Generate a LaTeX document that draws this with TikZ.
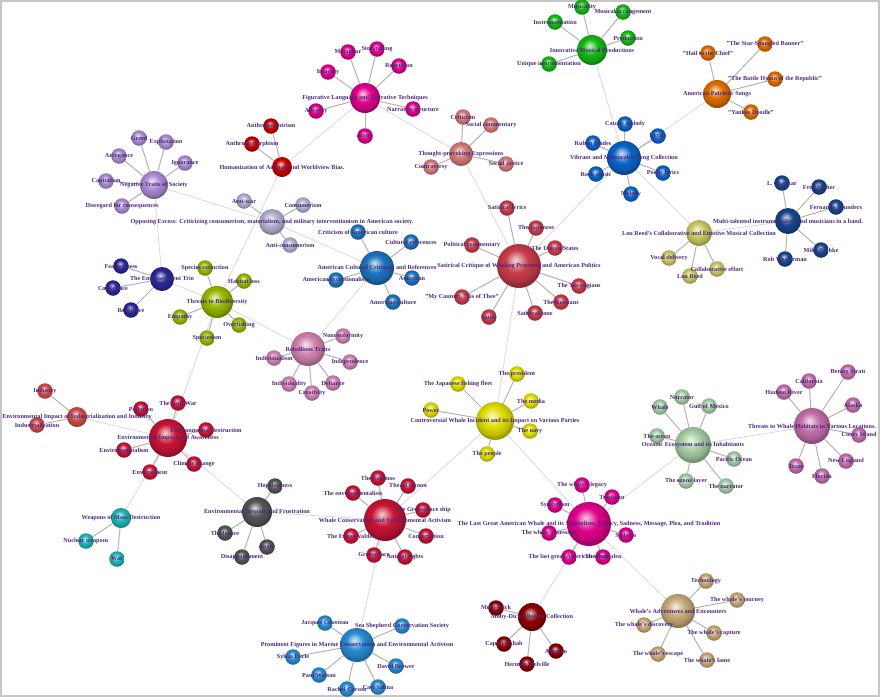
\documentclass[tikz,border=0pt]{standalone}
\usepackage{fontspec}
\setmainfont{Liberation Serif}
\usetikzlibrary{backgrounds}

\definecolor{labelpurple}{RGB}{75,40,120}
\definecolor{negc}{RGB}{170,140,210}
\definecolor{oppc}{RGB}{178,175,208}
\definecolor{humc}{RGB}{200,0,0}
\definecolor{figc}{RGB}{225,0,140}
\definecolor{tpec}{RGB}{212,122,122}
\definecolor{impc}{RGB}{20,185,20}
\definecolor{vibc}{RGB}{10,100,200}
\definecolor{patc}{RGB}{222,110,0}
\definecolor{louc}{RGB}{200,200,100}
\definecolor{mulc}{RGB}{20,70,140}
\definecolor{satc}{RGB}{200,60,75}
\definecolor{accc}{RGB}{30,115,190}
\definecolor{empc}{RGB}{40,40,150}
\definecolor{bioc}{RGB}{150,185,0}
\definecolor{rebc}{RGB}{210,130,175}
\definecolor{indc}{RGB}{210,75,75}
\definecolor{eiac}{RGB}{200,20,55}
\definecolor{wmdc}{RGB}{30,180,180}
\definecolor{desc}{RGB}{85,85,85}
\definecolor{wcac}{RGB}{200,20,55}
\definecolor{pfmc}{RGB}{40,140,210}
\definecolor{cwic}{RGB}{222,222,0}
\definecolor{lgwc}{RGB}{225,0,140}
\definecolor{mobc}{RGB}{140,0,0}
\definecolor{advc}{RGB}{200,170,120}
\definecolor{ocec}{RGB}{165,205,165}
\definecolor{thwc}{RGB}{195,110,170}

% soft sphere shading, tinted by the colour "gloss"
\colorlet{gloss}{gray}
\pgfdeclareradialshading[gloss]{sphere}{\pgfqpoint{-4bp}{7bp}}{%
 color(0bp)=(gloss!20!white);
 color(13bp)=(gloss);
 color(22bp)=(gloss!85!black);
 color(25bp)=(gloss!72!black);
 color(50bp)=(gloss!60!black)}

\begin{document}
\begin{tikzpicture}[x=1pt,y=-1pt,
hubnode/.style={circle, shading=sphere, /utils/exec={\colorlet{gloss}{#1}}, inner sep=0pt},
leafnode/.style={hubnode=#1, minimum size=15.5pt},
nodetext/.style={text=labelpurple, font=\bfseries\fontsize{6.2}{7}\selectfont, inner sep=0pt},
spoke/.style={draw=gray!60, line width=1pt},
link/.style={draw=gray!30, line width=0.8pt}
]
\useasboundingbox (0,0) rectangle (880,697);
\draw[gray!45, line width=1.5pt] (1,1) rectangle (879,696);

%Hubs
\node[hubnode=negc, minimum size=28pt] (NEG) at (154,185) {};
\node[hubnode=oppc, minimum size=26pt] (OPP) at (272,222) {};
\node[hubnode=humc, minimum size=20pt] (HUM) at (282,167) {};
\node[hubnode=figc, minimum size=30pt] (FIG) at (365,98) {};
\node[hubnode=tpec, minimum size=24pt] (TPE) at (461,154) {};
\node[hubnode=impc, minimum size=30pt] (IMP) at (592,50) {};
\node[hubnode=vibc, minimum size=34pt] (VIB) at (624,158) {};
\node[hubnode=patc, minimum size=28pt] (PAT) at (717,94) {};
\node[hubnode=louc, minimum size=26pt] (LOU) at (699,233) {};
\node[hubnode=mulc, minimum size=26pt] (MUL) at (788,221) {};
\node[hubnode=satc, minimum size=44pt] (SAT) at (519,266) {};
\node[hubnode=accc, minimum size=34pt] (ACC) at (377,268) {};
\node[hubnode=empc, minimum size=24pt] (EMP) at (162,279) {};
\node[hubnode=bioc, minimum size=32pt] (BIO) at (217,302) {};
\node[hubnode=rebc, minimum size=34pt] (REB) at (308,349) {};
\node[hubnode=indc, minimum size=20pt] (IND) at (77,417) {};
\node[hubnode=eiac, minimum size=38pt] (EIA) at (168,438) {};
\node[hubnode=wmdc, minimum size=20pt] (WMD) at (121,518) {};
\node[hubnode=desc, minimum size=30pt] (DES) at (257,512) {};
\node[hubnode=wcac, minimum size=42pt] (WCA) at (385,520) {};
\node[hubnode=pfmc, minimum size=34pt] (PFM) at (357,645) {};
\node[hubnode=cwic, minimum size=38pt] (CWI) at (495,421) {};
\node[hubnode=lgwc, minimum size=44pt] (LGW) at (589,524) {};
\node[hubnode=mobc, minimum size=28pt] (MOB) at (532,617) {};
\node[hubnode=advc, minimum size=34pt] (ADV) at (678,611) {};
\node[hubnode=ocec, minimum size=36pt] (OCE) at (693,445) {};
\node[hubnode=thwc, minimum size=36pt] (THW) at (812,426) {};

%Leaves
\node[leafnode=negc] (NEG-1) at (139,138) {};
\node[leafnode=negc] (NEG-2) at (166,142) {};
\node[leafnode=negc] (NEG-3) at (119,156) {};
\node[leafnode=negc] (NEG-4) at (185,163) {};
\node[leafnode=negc] (NEG-5) at (106,181) {};
\node[leafnode=negc] (NEG-6) at (122,206) {};

\node[leafnode=oppc] (OPP-1) at (244,201) {};
\node[leafnode=oppc] (OPP-2) at (303,205) {};
\node[leafnode=oppc] (OPP-3) at (290,245) {};

\node[leafnode=humc] (HUM-1) at (271,126) {};
\node[leafnode=humc] (HUM-2) at (252,144) {};

\node[leafnode=figc] (FIG-1) at (348,52) {};
\node[leafnode=figc] (FIG-2) at (377,49) {};
\node[leafnode=figc] (FIG-3) at (328,72) {};
\node[leafnode=figc] (FIG-4) at (399,66) {};
\node[leafnode=figc] (FIG-5) at (316,111) {};
\node[leafnode=figc] (FIG-6) at (413,109) {};
\node[leafnode=figc] (FIG-7) at (365,136) {};

\node[leafnode=tpec] (TPE-1) at (463,117) {};
\node[leafnode=tpec] (TPE-2) at (491,125) {};
\node[leafnode=tpec] (TPE-3) at (506,164) {};
\node[leafnode=tpec] (TPE-4) at (431,167) {};

\node[leafnode=impc] (IMP-1) at (582,7) {};
\node[leafnode=impc] (IMP-2) at (623,12) {};
\node[leafnode=impc] (IMP-3) at (555,22) {};
\node[leafnode=impc] (IMP-4) at (628,38) {};
\node[leafnode=impc] (IMP-5) at (549,64) {};

\node[leafnode=vibc] (VIB-1) at (625,124) {};
\node[leafnode=vibc] (VIB-2) at (593,143) {};
\node[leafnode=vibc] (VIB-3) at (658,136) {};
\node[leafnode=vibc] (VIB-4) at (596,174) {};
\node[leafnode=vibc] (VIB-5) at (663,173) {};
\node[leafnode=vibc] (VIB-6) at (631,194) {};

\node[leafnode=patc] (PAT-1) at (708,53) {};
\node[leafnode=patc] (PAT-2) at (765,44) {};
\node[leafnode=patc] (PAT-3) at (775,79) {};
\node[leafnode=patc] (PAT-4) at (751,112) {};

\node[leafnode=louc] (LOU-1) at (669,258) {};
\node[leafnode=louc] (LOU-2) at (690,276) {};
\node[leafnode=louc] (LOU-3) at (717,269) {};

\node[leafnode=mulc] (MUL-1) at (782,183) {};
\node[leafnode=mulc] (MUL-2) at (819,187) {};
\node[leafnode=mulc] (MUL-3) at (836,207) {};
\node[leafnode=mulc] (MUL-4) at (821,250) {};
\node[leafnode=mulc] (MUL-5) at (785,259) {};

\node[leafnode=satc] (SAT-1) at (507,208) {};
\node[leafnode=satc] (SAT-2) at (536,228) {};
\node[leafnode=satc] (SAT-3) at (472,245) {};
\node[leafnode=satc] (SAT-4) at (555,248) {};
\node[leafnode=satc] (SAT-5) at (462,297) {};
\node[leafnode=satc] (SAT-6) at (489,317) {};
\node[leafnode=satc] (SAT-7) at (535,313) {};
\node[leafnode=satc] (SAT-8) at (561,302) {};
\node[leafnode=satc] (SAT-9) at (579,286) {};

\node[leafnode=accc] (ACC-1) at (358,232) {};
\node[leafnode=accc] (ACC-2) at (411,242) {};
\node[leafnode=accc] (ACC-3) at (336,280) {};
\node[leafnode=accc] (ACC-4) at (412,278) {};
\node[leafnode=accc] (ACC-5) at (393,302) {};

\node[leafnode=empc] (EMP-1) at (121,266) {};
\node[leafnode=empc] (EMP-2) at (113,288) {};
\node[leafnode=empc] (EMP-3) at (131,310) {};

\node[leafnode=bioc] (BIO-1) at (205,268) {};
\node[leafnode=bioc] (BIO-2) at (244,281) {};
\node[leafnode=bioc] (BIO-3) at (180,317) {};
\node[leafnode=bioc] (BIO-4) at (239,325) {};
\node[leafnode=bioc] (BIO-5) at (207,338) {};

\node[leafnode=rebc] (REB-1) at (343,336) {};
\node[leafnode=rebc] (REB-2) at (274,358) {};
\node[leafnode=rebc] (REB-3) at (350,362) {};
\node[leafnode=rebc] (REB-4) at (289,384) {};
\node[leafnode=rebc] (REB-5) at (333,383) {};
\node[leafnode=rebc] (REB-6) at (312,393) {};

\node[leafnode=indc] (IND-1) at (45,391) {};
\node[leafnode=indc] (IND-2) at (37,425) {};

\node[leafnode=eiac] (EIA-1) at (178,403) {};
\node[leafnode=eiac] (EIA-2) at (141,409) {};
\node[leafnode=eiac] (EIA-3) at (206,430) {};
\node[leafnode=eiac] (EIA-4) at (124,450) {};
\node[leafnode=eiac] (EIA-5) at (194,464) {};
\node[leafnode=eiac] (EIA-6) at (150,472) {};

\node[leafnode=wmdc] (WMD-1) at (86,541) {};
\node[leafnode=wmdc] (WMD-2) at (117,559) {};

\node[leafnode=desc] (DES-1) at (275,486) {};
\node[leafnode=desc] (DES-2) at (225,533) {};
\node[leafnode=desc] (DES-3) at (267,547) {};
\node[leafnode=desc] (DES-4) at (242,557) {};

\node[leafnode=wcac] (WCA-1) at (378,478) {};
\node[leafnode=wcac] (WCA-2) at (408,486) {};
\node[leafnode=wcac] (WCA-3) at (353,493) {};
\node[leafnode=wcac] (WCA-4) at (423,510) {};
\node[leafnode=wcac] (WCA-5) at (351,536) {};
\node[leafnode=wcac] (WCA-6) at (426,536) {};
\node[leafnode=wcac] (WCA-7) at (374,555) {};
\node[leafnode=wcac] (WCA-8) at (405,557) {};

\node[leafnode=pfmc] (PFM-1) at (325,623) {};
\node[leafnode=pfmc] (PFM-2) at (402,626) {};
\node[leafnode=pfmc] (PFM-3) at (293,657) {};
\node[leafnode=pfmc] (PFM-4) at (396,666) {};
\node[leafnode=pfmc] (PFM-5) at (319,675) {};
\node[leafnode=pfmc] (PFM-6) at (347,689) {};
\node[leafnode=pfmc] (PFM-7) at (378,687) {};

\node[leafnode=cwic] (CWI-1) at (517,374) {};
\node[leafnode=cwic] (CWI-2) at (458,384) {};
\node[leafnode=cwic] (CWI-3) at (531,401) {};
\node[leafnode=cwic] (CWI-4) at (530,431) {};
\node[leafnode=cwic] (CWI-5) at (487,454) {};
\node[leafnode=cwic] (CWI-6) at (431,410) {};

\node[leafnode=lgwc] (LGW-1) at (582,485) {};
\node[leafnode=lgwc] (LGW-2) at (612,497) {};
\node[leafnode=lgwc] (LGW-3) at (555,505) {};
\node[leafnode=lgwc] (LGW-4) at (549,533) {};
\node[leafnode=lgwc] (LGW-5) at (626,535) {};
\node[leafnode=lgwc] (LGW-6) at (569,557) {};
\node[leafnode=lgwc] (LGW-7) at (603,557) {};

\node[leafnode=mobc] (MOB-1) at (496,608) {};
\node[leafnode=mobc] (MOB-2) at (504,644) {};
\node[leafnode=mobc] (MOB-3) at (556,651) {};
\node[leafnode=mobc] (MOB-4) at (527,664) {};

\node[leafnode=advc] (ADV-1) at (706,581) {};
\node[leafnode=advc] (ADV-2) at (737,600) {};
\node[leafnode=advc] (ADV-3) at (644,625) {};
\node[leafnode=advc] (ADV-4) at (714,633) {};
\node[leafnode=advc] (ADV-5) at (658,654) {};
\node[leafnode=advc] (ADV-6) at (707,660) {};

\node[leafnode=ocec] (OCE-1) at (660,407) {};
\node[leafnode=ocec] (OCE-2) at (682,397) {};
\node[leafnode=ocec] (OCE-3) at (709,406) {};
\node[leafnode=ocec] (OCE-4) at (657,436) {};
\node[leafnode=ocec] (OCE-5) at (734,459) {};
\node[leafnode=ocec] (OCE-6) at (686,481) {};
\node[leafnode=ocec] (OCE-7) at (726,486) {};

\node[leafnode=thwc] (THW-1) at (848,372) {};
\node[leafnode=thwc] (THW-2) at (809,381) {};
\node[leafnode=thwc] (THW-3) at (784,392) {};
\node[leafnode=thwc] (THW-4) at (853,405) {};
\node[leafnode=thwc] (THW-5) at (859,435) {};
\node[leafnode=thwc] (THW-6) at (846,461) {};
\node[leafnode=thwc] (THW-7) at (796,466) {};
\node[leafnode=thwc] (THW-8) at (822,476) {};

%Lines
\begin{scope}[on background layer]
\draw[link] (NEG) -- (OPP);
\draw[link] (NEG) -- (EMP);
\draw[link] (OPP) -- (ACC);
\draw[link] (HUM) -- (FIG);
\draw[link] (HUM) -- (BIO);
\draw[link] (FIG) -- (TPE);
\draw[link] (TPE) -- (SAT);
\draw[link] (IMP) -- (VIB);
\draw[link] (VIB) -- (PAT);
\draw[link] (VIB) -- (LOU);
\draw[link] (VIB) -- (SAT);
\draw[link] (LOU) -- (MUL);
\draw[link] (EMP) -- (BIO);
\draw[link] (BIO) -- (REB);
\draw[link] (REB) -- (ACC);
\draw[link] (BIO) -- (EIA);
\draw[link] (IND) -- (EIA);
\draw[link] (EIA) -- (WMD);
\draw[link] (EIA) -- (DES);
\draw[link] (DES) -- (WCA);
\draw[link] (WCA) -- (CWI);
\draw[link] (WCA) -- (PFM);
\draw[link] (CWI) -- (SAT);
\draw[link] (CWI) -- (LGW);
\draw[link] (LGW) -- (MOB);
\draw[link] (LGW) -- (ADV);
\draw[link] (LGW) -- (OCE);
\draw[link] (OCE) -- (THW);

\foreach \i in {1,...,6} \draw[spoke] (NEG) -- (NEG-\i);
\foreach \i in {1,...,3} \draw[spoke] (OPP) -- (OPP-\i);
\foreach \i in {1,2} \draw[spoke] (HUM) -- (HUM-\i);
\foreach \i in {1,...,7} \draw[spoke] (FIG) -- (FIG-\i);
\foreach \i in {1,...,4} \draw[spoke] (TPE) -- (TPE-\i);
\foreach \i in {1,...,5} \draw[spoke] (IMP) -- (IMP-\i);
\foreach \i in {1,...,6} \draw[spoke] (VIB) -- (VIB-\i);
\foreach \i in {1,...,4} \draw[spoke] (PAT) -- (PAT-\i);
\foreach \i in {1,...,3} \draw[spoke] (LOU) -- (LOU-\i);
\foreach \i in {1,...,5} \draw[spoke] (MUL) -- (MUL-\i);
\foreach \i in {1,...,9} \draw[spoke] (SAT) -- (SAT-\i);
\foreach \i in {1,...,5} \draw[spoke] (ACC) -- (ACC-\i);
\foreach \i in {1,...,3} \draw[spoke] (EMP) -- (EMP-\i);
\foreach \i in {1,...,5} \draw[spoke] (BIO) -- (BIO-\i);
\foreach \i in {1,...,6} \draw[spoke] (REB) -- (REB-\i);
\foreach \i in {1,2} \draw[spoke] (IND) -- (IND-\i);
\foreach \i in {1,...,6} \draw[spoke] (EIA) -- (EIA-\i);
\foreach \i in {1,2} \draw[spoke] (WMD) -- (WMD-\i);
\foreach \i in {1,...,4} \draw[spoke] (DES) -- (DES-\i);
\foreach \i in {1,...,8} \draw[spoke] (WCA) -- (WCA-\i);
\foreach \i in {1,...,7} \draw[spoke] (PFM) -- (PFM-\i);
\foreach \i in {1,...,6} \draw[spoke] (CWI) -- (CWI-\i);
\foreach \i in {1,...,7} \draw[spoke] (LGW) -- (LGW-\i);
\foreach \i in {1,...,4} \draw[spoke] (MOB) -- (MOB-\i);
\foreach \i in {1,...,6} \draw[spoke] (ADV) -- (ADV-\i);
\foreach \i in {1,...,7} \draw[spoke] (OCE) -- (OCE-\i);
\foreach \i in {1,...,8} \draw[spoke] (THW) -- (THW-\i);
\end{scope}

%Labels
\node[nodetext] (NEG-1-t) at (NEG-1) {Greed};
\node[nodetext] (NEG-2-t) at (NEG-2) {Exploitation};
\node[nodetext] (NEG-3-t) at (NEG-3) {Arrogance};
\node[nodetext] (NEG-4-t) at (NEG-4) {Ignorance};
\node[nodetext] (NEG-5-t) at (NEG-5) {Capitalism};
\node[nodetext] (NEG-6-t) at (NEG-6) {Disregard for consequences};
\node[nodetext] (NEG-t) at (NEG) {Negative Traits of Society};

\node[nodetext] (OPP-1-t) at (OPP-1) {Anti-war};
\node[nodetext] (OPP-2-t) at (OPP-2) {Consumerism};
\node[nodetext] (OPP-3-t) at (OPP-3) {Anti-consumerism};
\node[nodetext] (OPP-t) at (OPP) {Opposing Excess: Criticizing consumerism, materialism, and military interventionism in American society.};

\node[nodetext] (HUM-1-t) at (HUM-1) {Anthropocentrism};
\node[nodetext] (HUM-2-t) at (HUM-2) {Anthropomorphism};
\node[nodetext] (HUM-t) at (HUM) {Humanization of Animals and Worldview Bias.};

\node[nodetext] (FIG-1-t) at (FIG-1) {Metaphor};
\node[nodetext] (FIG-2-t) at (FIG-2) {Storytelling};
\node[nodetext] (FIG-3-t) at (FIG-3) {Imagery};
\node[nodetext] (FIG-4-t) at (FIG-4) {Repetition};
\node[nodetext] (FIG-5-t) at (FIG-5) {Allegory};
\node[nodetext] (FIG-6-t) at (FIG-6) {Narrative structure};
\node[nodetext] (FIG-7-t) at (FIG-7) {Irony};
\node[nodetext] (FIG-t) at (FIG) {Figurative Language and Narrative Techniques};

\node[nodetext] (TPE-1-t) at (TPE-1) {Criticism};
\node[nodetext] (TPE-2-t) at (TPE-2) {Social commentary};
\node[nodetext] (TPE-3-t) at (TPE-3) {Social justice};
\node[nodetext] (TPE-4-t) at (TPE-4) {Controversy};
\node[nodetext] (TPE-t) at (TPE) {Thought-provoking Expressions};

\node[nodetext] (IMP-1-t) at (IMP-1) {Musicality};
\node[nodetext] (IMP-2-t) at (IMP-2) {Musical arrangement};
\node[nodetext] (IMP-3-t) at (IMP-3) {Instrumentation};
\node[nodetext] (IMP-4-t) at (IMP-4) {Production};
\node[nodetext] (IMP-5-t) at (IMP-5) {Unique instrumentation};
\node[nodetext] (IMP-t) at (IMP) {Innovative Musical Productions};

\node[nodetext] (VIB-1-t) at (VIB-1) {Catchy melody};
\node[nodetext] (VIB-2-t) at (VIB-2) {Ruben Blades};
\node[nodetext] (VIB-3-t) at (VIB-3) {Lyrics};
\node[nodetext] (VIB-4-t) at (VIB-4) {Rock music};
\node[nodetext] (VIB-5-t) at (VIB-5) {Poetic lyrics};
\node[nodetext] (VIB-6-t) at (VIB-6) {Melody};
\node[nodetext] (VIB-t) at (VIB) {Vibrant and Memorable Song Collection};

\node[nodetext] (PAT-1-t) at (PAT-1) {"Hail to the Chief"};
\node[nodetext] (PAT-2-t) at (PAT-2) {"The Star-Spangled Banner"};
\node[nodetext] (PAT-3-t) at (PAT-3) {"The Battle Hymn of the Republic"};
\node[nodetext] (PAT-4-t) at (PAT-4) {"Yankee Doodle"};
\node[nodetext] (PAT-t) at (PAT) {American Patriotic Songs};

\node[nodetext] (LOU-1-t) at (LOU-1) {Vocal delivery};
\node[nodetext] (LOU-2-t) at (LOU-2) {Lou Reed};
\node[nodetext] (LOU-3-t) at (LOU-3) {Collaborative effort};
\node[nodetext] (LOU-t) at (LOU) {Lou Reed's Collaborative and Emotive Musical Collection};

\node[nodetext] (MUL-1-t) at (MUL-1) {L. Shankar};
\node[nodetext] (MUL-2-t) at (MUL-2) {Fred Maher};
\node[nodetext] (MUL-3-t) at (MUL-3) {Fernando Saunders};
\node[nodetext] (MUL-4-t) at (MUL-4) {Mike Rathke};
\node[nodetext] (MUL-5-t) at (MUL-5) {Rob Wasserman};
\node[nodetext] (MUL-t) at (MUL) {Multi-talented instrumentalists and musicians in a band.};

\node[nodetext] (SAT-1-t) at (SAT-1) {Satirical lyrics};
\node[nodetext] (SAT-2-t) at (SAT-2) {The Japanese};
\node[nodetext] (SAT-3-t) at (SAT-3) {Political commentary};
\node[nodetext] (SAT-4-t) at (SAT-4) {The United States};
\node[nodetext] (SAT-5-t) at (SAT-5) {"My Country, 'Tis of Thee"};
\node[nodetext] (SAT-6-t) at (SAT-6) {Satire};
\node[nodetext] (SAT-7-t) at (SAT-7) {Satirical tone};
\node[nodetext] (SAT-8-t) at (SAT-8) {The Russians};
\node[nodetext] (SAT-9-t) at (SAT-9) {The Norwegians};
\node[nodetext] (SAT-t) at (SAT) {Satirical Critique of Whaling Practices and American Politics};

\node[nodetext] (ACC-1-t) at (ACC-1) {Criticism of American culture};
\node[nodetext] (ACC-2-t) at (ACC-2) {Cultural references};
\node[nodetext] (ACC-3-t) at (ACC-3) {American exceptionalism};
\node[nodetext] (ACC-4-t) at (ACC-4) {American};
\node[nodetext] (ACC-5-t) at (ACC-5) {American culture};
\node[nodetext] (ACC-t) at (ACC) {American Cultural Critiques and References};

\node[nodetext] (EMP-1-t) at (EMP-1) {Fearlessness};
\node[nodetext] (EMP-2-t) at (EMP-2) {Confidence};
\node[nodetext] (EMP-3-t) at (EMP-3) {Resilience};
\node[nodetext] (EMP-t) at (EMP) {The Empowerment Trio};

\node[nodetext] (BIO-1-t) at (BIO-1) {Species extinction};
\node[nodetext] (BIO-2-t) at (BIO-2) {Habitat loss};
\node[nodetext] (BIO-3-t) at (BIO-3) {Empathy};
\node[nodetext] (BIO-4-t) at (BIO-4) {Overfishing};
\node[nodetext] (BIO-5-t) at (BIO-5) {Speciesism};
\node[nodetext] (BIO-t) at (BIO) {Threats to Biodiversity};

\node[nodetext] (REB-1-t) at (REB-1) {Nonconformity};
\node[nodetext] (REB-2-t) at (REB-2) {Individualism};
\node[nodetext] (REB-3-t) at (REB-3) {Independence};
\node[nodetext] (REB-4-t) at (REB-4) {Individuality};
\node[nodetext] (REB-5-t) at (REB-5) {Defiance};
\node[nodetext] (REB-6-t) at (REB-6) {Creativity};
\node[nodetext] (REB-t) at (REB) {Rebellious Traits};

\node[nodetext] (IND-1-t) at (IND-1) {Industry};
\node[nodetext] (IND-2-t) at (IND-2) {Industrialization};
\node[nodetext] (IND-t) at (IND) {Environmental Impact of Industrialization and Industry};

\node[nodetext] (EIA-1-t) at (EIA-1) {The Gulf War};
\node[nodetext] (EIA-2-t) at (EIA-2) {Pollution};
\node[nodetext] (EIA-3-t) at (EIA-3) {Environmental destruction};
\node[nodetext] (EIA-4-t) at (EIA-4) {Environmentalism};
\node[nodetext] (EIA-5-t) at (EIA-5) {Climate change};
\node[nodetext] (EIA-6-t) at (EIA-6) {Environment};
\node[nodetext] (EIA-t) at (EIA) {Environmental Impact and Awareness};

\node[nodetext] (WMD-1-t) at (WMD-1) {Nuclear weapons};
\node[nodetext] (WMD-2-t) at (WMD-2) {War};
\node[nodetext] (WMD-t) at (WMD) {Weapons of Mass Destruction};

\node[nodetext] (DES-1-t) at (DES-1) {Hopelessness};
\node[nodetext] (DES-2-t) at (DES-2) {The future};
\node[nodetext] (DES-3-t) at (DES-3) {Anger};
\node[nodetext] (DES-4-t) at (DES-4) {Disappointment};
\node[nodetext] (DES-t) at (DES) {Environmental Despair and Frustration};

\node[nodetext] (WCA-1-t) at (WCA-1) {The Eskimos};
\node[nodetext] (WCA-2-t) at (WCA-2) {The oil tycoon};
\node[nodetext] (WCA-3-t) at (WCA-3) {The environmentalists};
\node[nodetext] (WCA-4-t) at (WCA-4) {The Greenpeace ship};
\node[nodetext] (WCA-5-t) at (WCA-5) {The Exxon Valdez};
\node[nodetext] (WCA-6-t) at (WCA-6) {Conservation};
\node[nodetext] (WCA-7-t) at (WCA-7) {Greenpeace};
\node[nodetext] (WCA-8-t) at (WCA-8) {Animal rights};
\node[nodetext] (WCA-t) at (WCA) {Whale Conservation and Environmental Activism};

\node[nodetext] (PFM-1-t) at (PFM-1) {Jacques Cousteau};
\node[nodetext] (PFM-2-t) at (PFM-2) {Sea Shepherd Conservation Society};
\node[nodetext] (PFM-3-t) at (PFM-3) {Sylvia Earle};
\node[nodetext] (PFM-4-t) at (PFM-4) {David Brower};
\node[nodetext] (PFM-5-t) at (PFM-5) {Paul Watson};
\node[nodetext] (PFM-6-t) at (PFM-6) {Rachel Carson};
\node[nodetext] (PFM-7-t) at (PFM-7) {Carl Safina};
\node[nodetext] (PFM-t) at (PFM) {Prominent Figures in Marine Conservation and Environmental Activism};

\node[nodetext] (CWI-1-t) at (CWI-1) {The president};
\node[nodetext] (CWI-2-t) at (CWI-2) {The Japanese fishing fleet};
\node[nodetext] (CWI-3-t) at (CWI-3) {The media};
\node[nodetext] (CWI-4-t) at (CWI-4) {The navy};
\node[nodetext] (CWI-5-t) at (CWI-5) {The people};
\node[nodetext] (CWI-6-t) at (CWI-6) {Power};
\node[nodetext] (CWI-t) at (CWI) {Controversial Whale Incident and its Impact on Various Parties};

\node[nodetext] (LGW-1-t) at (LGW-1) {The whale's legacy};
\node[nodetext] (LGW-2-t) at (LGW-2) {Tradition};
\node[nodetext] (LGW-3-t) at (LGW-3) {Symbolism};
\node[nodetext] (LGW-4-t) at (LGW-4) {The whale's message};
\node[nodetext] (LGW-5-t) at (LGW-5) {Sadness};
\node[nodetext] (LGW-6-t) at (LGW-6) {The last great American whale};
\node[nodetext] (LGW-7-t) at (LGW-7) {The final plea};
\node[nodetext] (LGW-t) at (LGW) {The Last Great American Whale and its Symbolism, Legacy, Sadness, Message, Plea, and Tradition};

\node[nodetext] (MOB-1-t) at (MOB-1) {Moby-Dick};
\node[nodetext] (MOB-2-t) at (MOB-2) {Captain Ahab};
\node[nodetext] (MOB-3-t) at (MOB-3) {Allusion};
\node[nodetext] (MOB-4-t) at (MOB-4) {Herman Melville};
\node[nodetext] (MOB-t) at (MOB) {Moby-Dick Allusion Collection};

\node[nodetext] (ADV-1-t) at (ADV-1) {Technology};
\node[nodetext] (ADV-2-t) at (ADV-2) {The whale's journey};
\node[nodetext] (ADV-3-t) at (ADV-3) {The whale's discovery};
\node[nodetext] (ADV-4-t) at (ADV-4) {The whale's capture};
\node[nodetext] (ADV-5-t) at (ADV-5) {The whale's escape};
\node[nodetext] (ADV-6-t) at (ADV-6) {The whale's fame};
\node[nodetext] (ADV-t) at (ADV) {Whale's Adventures and Encounters};

\node[nodetext] (OCE-1-t) at (OCE-1) {Whale};
\node[nodetext] (OCE-2-t) at (OCE-2) {Narrator};
\node[nodetext] (OCE-3-t) at (OCE-3) {Gulf of Mexico};
\node[nodetext] (OCE-4-t) at (OCE-4) {The ocean};
\node[nodetext] (OCE-5-t) at (OCE-5) {Pacific Ocean};
\node[nodetext] (OCE-6-t) at (OCE-6) {The ozone layer};
\node[nodetext] (OCE-7-t) at (OCE-7) {The narrator};
\node[nodetext] (OCE-t) at (OCE) {Oceanic Ecosystem and its Inhabitants};

\node[nodetext] (THW-1-t) at (THW-1) {Bering Strait};
\node[nodetext] (THW-2-t) at (THW-2) {California};
\node[nodetext] (THW-3-t) at (THW-3) {Hudson River};
\node[nodetext] (THW-4-t) at (THW-4) {Alaska};
\node[nodetext] (THW-5-t) at (THW-5) {Coney Island};
\node[nodetext] (THW-6-t) at (THW-6) {New England};
\node[nodetext] (THW-7-t) at (THW-7) {Texas};
\node[nodetext] (THW-8-t) at (THW-8) {Florida};
\node[nodetext] (THW-t) at (THW) {Threats to Whale Habitats in Various Locations.};
\end{tikzpicture}
\end{document}
